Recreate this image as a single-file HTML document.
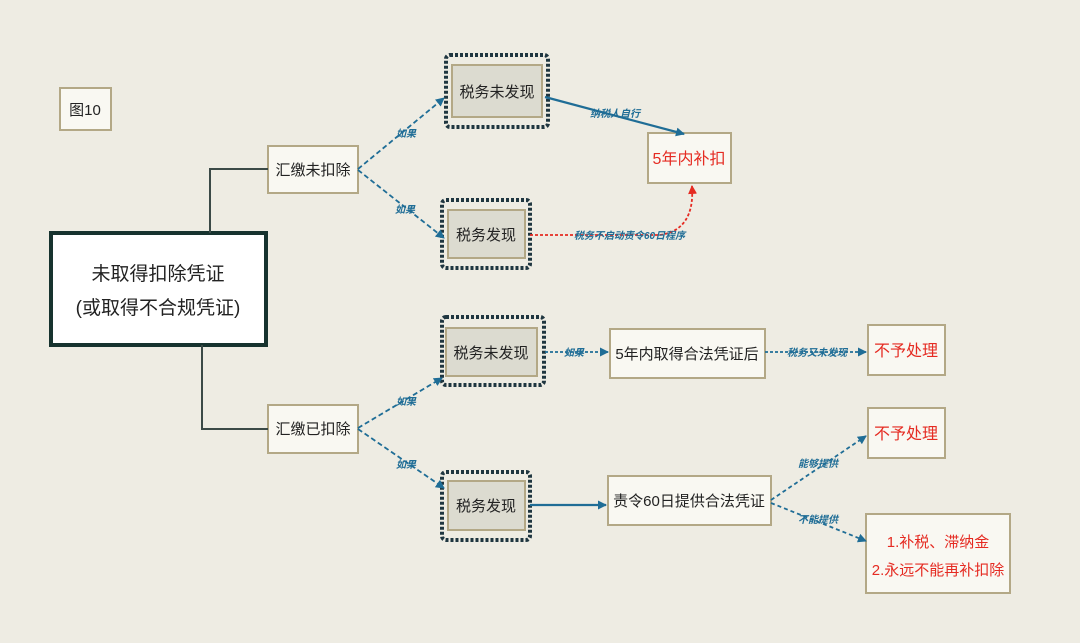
<!DOCTYPE html>
<html><head><meta charset="utf-8"><style>
body{margin:0;background:#eeece3;}
svg{display:block;font-family:"Liberation Sans","Noto Sans CJK SC",sans-serif;}
</style></head><body>
<svg width="1080" height="643" viewBox="0 0 1080 643" xmlns="http://www.w3.org/2000/svg">
<defs>
<marker id="ab" markerWidth="9" markerHeight="9" refX="8" refY="4.5" orient="auto" markerUnits="userSpaceOnUse"><path d="M0,0 L9,4.5 L0,9 z" fill="#1f6d96"/></marker>
<marker id="ar" markerWidth="9" markerHeight="9" refX="8" refY="4.5" orient="auto" markerUnits="userSpaceOnUse"><path d="M0,0 L9,4.5 L0,9 z" fill="#e52b22"/></marker>
</defs>
<rect width="1080" height="643" fill="#eeece3"/>
<g fill="#f9f8f2" stroke="#b3a886" stroke-width="2">
<rect x="60" y="88" width="51" height="42"/>
<rect x="268" y="146" width="90" height="47"/>
<rect x="268" y="405" width="90" height="48"/>
<rect x="648" y="133" width="83" height="50"/>
<rect x="610" y="329" width="155" height="49"/>
<rect x="868" y="325" width="77" height="50"/>
<rect x="608" y="476" width="163" height="49"/>
<rect x="868" y="408" width="77" height="50"/>
<rect x="866" y="514" width="144" height="79"/>
</g>
<rect x="51" y="233" width="215" height="112" fill="#fff" stroke="#17332f" stroke-width="4"/>
<g fill="none" stroke="#3b4a47" stroke-width="2">
<path d="M210,233 V169 H268"/><path d="M202,345 V429 H268"/>
</g>
<g fill="none" stroke="#1f3640" stroke-width="4" stroke-dasharray="3,2">
<rect x="446" y="55" width="102" height="72" rx="4"/>
<rect x="442" y="200" width="88" height="68" rx="4"/>
<rect x="442" y="317" width="102" height="68" rx="4"/>
<rect x="442" y="472" width="88" height="68" rx="4"/>
</g>
<g fill="#dcdbd0" stroke="#b3a886" stroke-width="2">
<rect x="452" y="65" width="90" height="52"/>
<rect x="448" y="210" width="77" height="48"/>
<rect x="446" y="328" width="91" height="48"/>
<rect x="448" y="481" width="77" height="49"/>
</g>
<g fill="none" stroke="#1f6d96" stroke-width="1.8">
<path d="M358,169 L444,98" stroke-dasharray="5,3" marker-end="url(#ab)"/>
<path d="M358,170 L444,238" stroke-dasharray="5,3" marker-end="url(#ab)"/>
<path d="M358,428 L442,378" stroke-dasharray="5,3" marker-end="url(#ab)"/>
<path d="M358,429 L444,488" stroke-dasharray="5,3" marker-end="url(#ab)"/>
<path d="M545,97 L684,134" stroke-width="2.2" marker-end="url(#ab)"/>
<path d="M545,352 L608,352" stroke-dasharray="3,2" marker-end="url(#ab)"/>
<path d="M765,352 L866,352" stroke-dasharray="3,2" marker-end="url(#ab)"/>
<path d="M530,505 L606,505" stroke-width="2.2" marker-end="url(#ab)"/>
<path d="M771,500 L866,436" stroke-dasharray="4,3" marker-end="url(#ab)"/>
<path d="M771,503 L866,541" stroke-dasharray="4,3" marker-end="url(#ab)"/>
</g>
<path d="M530,235 L660,235 Q695,230 692,186" fill="none" stroke="#e52b22" stroke-width="1.8" stroke-dasharray="3,2" marker-end="url(#ar)"/>
<g fill="#1f6d96" font-size="10" font-weight="bold" font-style="italic">
<text x="396" y="137">如果</text>
<text x="395" y="213">如果</text>
<text x="396" y="405">如果</text>
<text x="396" y="468">如果</text>
<text x="590" y="117">纳税人自行</text>
<text x="574" y="239">税务不启动责令60日程序</text>
<text x="564" y="356">如果</text>
<text x="787" y="356">税务又未发现</text>
<text x="798" y="467">能够提供</text>
<text x="798" y="523">不能提供</text>
</g>
<g fill="#222" font-size="15" text-anchor="middle">
<text x="85" y="115">图10</text>
<text x="313" y="175">汇缴未扣除</text>
<text x="313" y="434">汇缴已扣除</text>
<text x="497" y="97">税务未发现</text>
<text x="486" y="240">税务发现</text>
<text x="491" y="358">税务未发现</text>
<text x="486" y="511">税务发现</text>
<text x="687" y="359">5年内取得合法凭证后</text>
<text x="689" y="506">责令60日提供合法凭证</text>
<text x="158" y="280" font-size="19">未取得扣除凭证</text>
<text x="158" y="314" font-size="19">(或取得不合规凭证)</text>
</g>
<g fill="#e52b22" font-size="16" text-anchor="middle">
<text x="689" y="164">5年内补扣</text>
<text x="906" y="356">不予处理</text>
<text x="906" y="439">不予处理</text>
<text x="938" y="547" font-size="15">1.补税、滞纳金</text>
<text x="938" y="575" font-size="15">2.永远不能再补扣除</text>
</g>
</svg>
</body></html>
